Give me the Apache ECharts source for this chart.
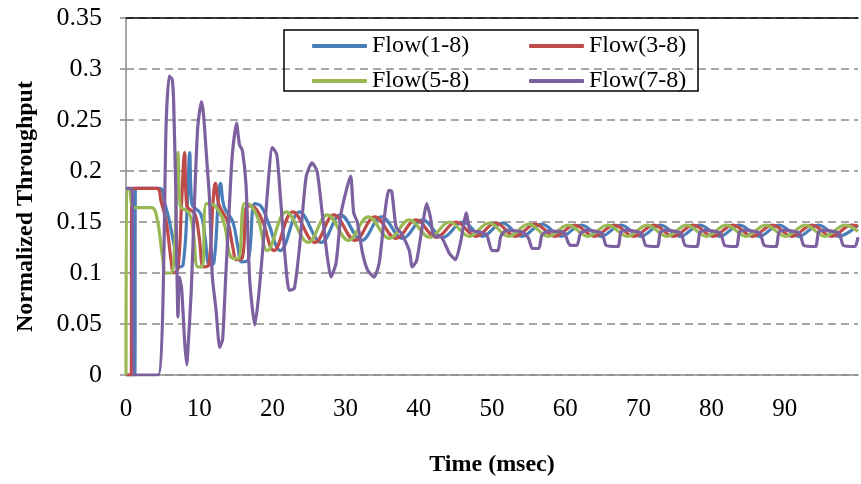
<!DOCTYPE html>
<html>
<head>
<meta charset="utf-8">
<title>Normalized Throughput</title>
<script src="https://cdn.jsdelivr.net/npm/echarts@6/dist/echarts.min.js"></script>
<style>
	html, body { margin: 0; padding: 0; background: #fff; }
	#chart { width: 861px; height: 484px; }
</style>
</head>
<body>
<div id="chart"></div>
<script>
	// 每条流的 [time(msec), normalized throughput]
	var flow18 = [[0,0],[1.2,0],[1.3,0.183],[4.6,0.183],[5.3,0.168],[5.8,0.155],[6.5,0.13],[7.2,0.106],[7.8,0.108],[8.4,0.17],[8.7,0.218],[9.0,0.168],[10.2,0.158],[10.8,0.135],[11.4,0.108],[12.0,0.11],[12.6,0.17],[12.9,0.188],[13.4,0.165],[14.6,0.15],[15.3,0.125],[15.8,0.111],[16.7,0.113],[17.6,0.168],[18.5,0.165],[19.4,0.15],[21.1,0.122],[23.7,0.16],[26.7,0.13],[29.3,0.157],[32.2,0.132],[34.9,0.155],[37.8,0.134],[40.5,0.152],[43.3,0.135],[46.0,0.15],[48.7,0.136],[51.4,0.149],[54.1,0.136],[56.8,0.148],[59.5,0.136],[62.2,0.147],[64.9,0.136],[67.6,0.147],[70.3,0.136],[73.0,0.147],[75.7,0.136],[78.4,0.147],[81.1,0.136],[83.8,0.147],[86.5,0.136],[89.2,0.147],[91.9,0.136],[94.6,0.147],[97.3,0.136],[100,0.147]];
	var flow38 = [[0,0],[0.7,0],[0.8,0.183],[4.2,0.183],[4.8,0.17],[5.5,0.15],[6.2,0.11],[6.5,0.1],[7.1,0.104],[7.6,0.17],[8.0,0.218],[8.3,0.166],[9.4,0.158],[10.0,0.135],[10.6,0.106],[11.3,0.108],[11.9,0.17],[12.2,0.188],[12.7,0.167],[13.9,0.15],[14.6,0.125],[15.1,0.113],[15.9,0.115],[16.6,0.166],[17.6,0.164],[18.7,0.15],[20.2,0.122],[22.8,0.16],[25.8,0.13],[28.4,0.157],[31.3,0.132],[34.0,0.155],[36.9,0.134],[39.6,0.152],[42.4,0.135],[45.1,0.15],[47.8,0.136],[50.5,0.149],[53.2,0.136],[55.9,0.148],[58.6,0.136],[61.3,0.147],[64.0,0.136],[66.7,0.147],[69.4,0.136],[72.1,0.147],[74.8,0.136],[77.5,0.147],[80.2,0.136],[82.9,0.147],[85.6,0.136],[88.3,0.147],[91.0,0.136],[93.7,0.147],[96.4,0.136],[99.1,0.147],[100,0.146]];
	var flow58 = [[0,0],[0.1,0.183],[0.4,0.183],[1.1,0.164],[3.5,0.164],[4.2,0.155],[5.0,0.115],[5.4,0.1],[6.1,0.1],[6.6,0.12],[7.1,0.218],[7.4,0.166],[8.6,0.159],[9.2,0.139],[9.8,0.106],[10.4,0.106],[11.0,0.168],[12.1,0.166],[13.4,0.149],[14.3,0.116],[15.3,0.114],[16.2,0.168],[17.1,0.166],[18.1,0.152],[19.3,0.122],[21.9,0.16],[24.9,0.13],[27.5,0.157],[30.4,0.132],[33.1,0.155],[36.0,0.134],[38.7,0.152],[41.5,0.135],[44.2,0.15],[46.9,0.136],[49.6,0.149],[52.3,0.136],[55.0,0.148],[57.7,0.136],[60.4,0.147],[63.1,0.136],[65.8,0.147],[68.5,0.136],[71.2,0.147],[73.9,0.136],[76.6,0.147],[79.3,0.136],[82.0,0.147],[84.7,0.136],[87.4,0.147],[90.1,0.136],[92.8,0.147],[95.5,0.136],[98.2,0.147],[100,0.141]];
	var flow78 = [[0,0.183],[0.8,0.183],[1.2,0],[4.4,0],[5.5,0.25],[5.9,0.293],[6.3,0.29],[6.5,0.27],[6.8,0.18],[7.1,0.057],[7.3,0.096],[7.6,0.085],[8.0,0.034],[8.3,0.01],[8.5,0.03],[8.9,0.08],[9.4,0.178],[9.8,0.243],[10.3,0.268],[10.6,0.255],[11.0,0.214],[11.4,0.174],[11.8,0.096],[12.3,0.064],[12.8,0.027],[13.2,0.035],[13.6,0.093],[14.1,0.162],[14.5,0.214],[15.1,0.247],[15.5,0.226],[15.9,0.22],[16.4,0.186],[16.9,0.093],[17.6,0.049],[18.2,0.083],[19.1,0.159],[20.0,0.223],[20.6,0.216],[21.1,0.174],[21.8,0.11],[22.3,0.083],[23.0,0.085],[23.7,0.125],[24.6,0.194],[25.4,0.208],[26.1,0.2],[26.8,0.159],[27.5,0.116],[28.0,0.096],[28.7,0.11],[29.4,0.159],[30.2,0.184],[30.7,0.195],[31.1,0.159],[31.6,0.15],[32.3,0.12],[33.0,0.103],[33.9,0.096],[34.6,0.11],[35.3,0.155],[35.9,0.181],[36.3,0.18],[36.9,0.145],[37.6,0.139],[38.7,0.122],[39.1,0.106],[39.7,0.112],[40.4,0.142],[41.1,0.168],[41.6,0.154],[42.0,0.137],[43.1,0.135],[44.2,0.119],[45.0,0.113],[45.7,0.13],[46.5,0.159],[47.0,0.142],[48.5,0.14],[49.3,0.137],[50.0,0.122],[50.8,0.122],[51.2,0.136],[52.0,0.142],[54.2,0.14],[55.0,0.134],[55.5,0.124],[56.4,0.124],[56.8,0.137],[57.6,0.141],[59.8,0.14],[60.4,0.13],[60.8,0.127],[61.6,0.127],[62.1,0.139],[63.0,0.142],[65.0,0.139],[65.6,0.127],[67.2,0.126],[67.6,0.14],[68.4,0.142],[70.4,0.139],[71.0,0.127],[72.6,0.126],[73.0,0.14],[73.8,0.142],[75.8,0.139],[76.4,0.127],[78.0,0.126],[78.4,0.14],[79.2,0.142],[81.2,0.139],[81.8,0.127],[83.4,0.126],[83.8,0.14],[84.6,0.142],[86.6,0.139],[87.2,0.127],[88.8,0.126],[89.2,0.14],[90.0,0.142],[92.0,0.139],[92.6,0.127],[94.2,0.126],[94.6,0.14],[95.4,0.142],[97.4,0.139],[98.0,0.127],[99.6,0.126],[100,0.135]];

	var seriesNames = ['Flow(1-8)', 'Flow(3-8)', 'Flow(5-8)', 'Flow(7-8)'];
	var seriesColors = ['#4a7ebb', '#be4b48', '#98b954', '#7d60a0'];
	var seriesData = [flow18, flow38, flow58, flow78];
	// 图例按两列排：第一列 1-8 / 5-8，第二列 3-8 / 7-8
	var legendOrder = ['Flow(1-8)', 'Flow(5-8)', 'Flow(3-8)', 'Flow(7-8)'];

	var xTicks = { min: 0, max: 100, interval: 10 };
	var yTicks = { min: 0, max: 0.35, interval: 0.05 };

	var fontFamily = '"Liberation Serif", "Times New Roman", serif';
	var gridColor = '#8a8a8a';

	var chart = echarts.init(document.getElementById('chart'));

	var series = [];
	for (var i = 0; i < seriesNames.length; i++) {
		series.push({
			name: seriesNames[i],
			type: 'line',
			data: seriesData[i],
			showSymbol: false,
			smooth: i < 3 ? 0.4 : 0.2,
			animation: false,
			lineStyle: { color: seriesColors[i], width: 3.2 },
			itemStyle: { color: seriesColors[i] },
			z: 3 + i
		});
	}

	chart.setOption({
		backgroundColor: '#fff',
		animation: false,
		grid: { left: 126, right: 0, top: 18, bottom: 109 },
		legend: {
			data: legendOrder,
			orient: 'vertical',
			left: 312,
			top: 32,
			height: 64,
			padding: 0,
			itemGap: 7,
			itemWidth: 55,
			itemHeight: 4,
			icon: 'roundRect',
			textStyle: {
				fontFamily: fontFamily,
				fontSize: 24,
				color: '#000',
				width: 150,
				lineHeight: 28
			}
		},
		graphic: [{
			type: 'rect',
			shape: { x: 284, y: 30, width: 414, height: 61 },
			style: { fill: 'rgba(0,0,0,0)', stroke: '#000', lineWidth: 1.5 },
			z: 100
		}],
		xAxis: [{
			type: 'value',
			min: xTicks.min,
			max: xTicks.max,
			interval: xTicks.interval,
			name: 'Time (msec)',
			nameLocation: 'middle',
			nameGap: 78,
			nameTextStyle: { fontFamily: fontFamily, fontSize: 24, fontWeight: 'bold', color: '#000' },
			axisLine: { lineStyle: { color: gridColor, width: 1.5 } },
			axisTick: { show: false },
			splitLine: { show: false },
			axisLabel: {
				fontFamily: fontFamily,
				fontSize: 25,
				color: '#000',
				margin: 22,
				formatter: function (v) { return v >= 100 ? '' : String(v); }
			}
		}, {
			// 绘图区顶部的黑色边框
			type: 'value',
			position: 'top',
			min: xTicks.min,
			max: xTicks.max,
			axisLine: { lineStyle: { color: '#000', width: 1.5 } },
			axisTick: { show: false },
			axisLabel: { show: false },
			splitLine: { show: false }
		}],
		yAxis: {
			type: 'value',
			min: yTicks.min,
			max: yTicks.max,
			interval: yTicks.interval,
			name: 'Normalized Throughput',
			nameLocation: 'middle',
			nameGap: 88,
			nameTextStyle: { fontFamily: fontFamily, fontSize: 24, fontWeight: 'bold', color: '#000', padding: [0, 20, 0, 0] },
			axisLine: { show: true, lineStyle: { color: gridColor, width: 1.5 } },
			axisTick: { show: true, length: 6, lineStyle: { color: gridColor, width: 1.5 } },
			axisLabel: {
				fontFamily: fontFamily,
				fontSize: 26,
				color: '#000',
				margin: 24,
				formatter: function (v) { return String(+v.toFixed(2)); }
			},
			splitLine: { lineStyle: { color: gridColor, width: 1.5, type: [8, 5] } }
		},
		series: series
	});
</script>
</body>
</html>
